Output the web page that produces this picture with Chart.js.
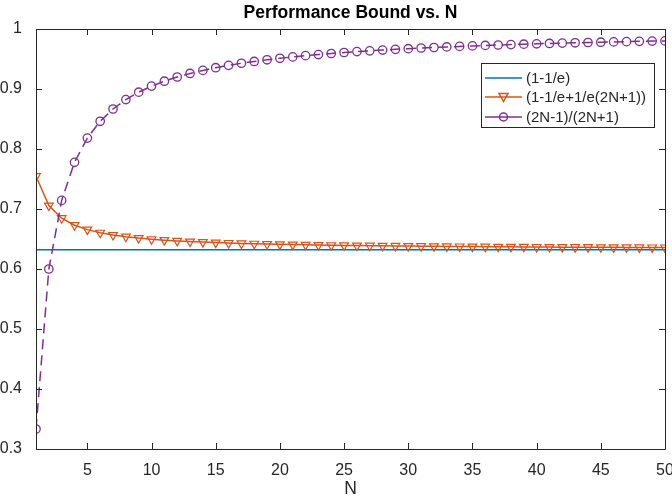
<!DOCTYPE html>
<html>
<head>
<meta charset="utf-8">
<script src="https://cdn.jsdelivr.net/npm/chart.js@4.4.1/dist/chart.umd.min.js"></script>
<style>
html,body{margin:0;padding:0;background:#fff;}
#wrap{width:672px;height:498px;position:relative;}
</style>
</head>
<body>
<div id="wrap"><canvas id="c" width="672" height="498"></canvas></div>
<script>
const titleText = "Performance Bound vs. N";
const xLabel = "N";
const N = [1,2,3,4,5,6,7,8,9,10,11,12,13,14,15,16,17,18,19,20,21,22,23,24,25,26,27,28,29,30,31,32,33,34,35,36,37,38,39,40,41,42,43,44,45,46,47,48,49,50];
const seriesNames = ["(1-1/e)", "(1-1/e+1/e(2N+1))", "(2N-1)/(2N+1)"];
const bound1 = [0.6321,0.6321,0.6321,0.6321,0.6321,0.6321,0.6321,0.6321,0.6321,0.6321,0.6321,0.6321,0.6321,0.6321,0.6321,0.6321,0.6321,0.6321,0.6321,0.6321,0.6321,0.6321,0.6321,0.6321,0.6321,0.6321,0.6321,0.6321,0.6321,0.6321,0.6321,0.6321,0.6321,0.6321,0.6321,0.6321,0.6321,0.6321,0.6321,0.6321,0.6321,0.6321,0.6321,0.6321,0.6321,0.6321,0.6321,0.6321,0.6321,0.6321];
const bound2 = [0.7547,0.7057,0.6847,0.6730,0.6656,0.6604,0.6566,0.6538,0.6515,0.6496,0.6481,0.6468,0.6457,0.6448,0.6440,0.6433,0.6426,0.6421,0.6416,0.6411,0.6407,0.6403,0.6399,0.6396,0.6393,0.6391,0.6388,0.6386,0.6384,0.6382,0.6380,0.6378,0.6376,0.6375,0.6373,0.6372,0.6370,0.6369,0.6368,0.6367,0.6366,0.6364,0.6363,0.6363,0.6362,0.6361,0.6360,0.6359,0.6358,0.6358];
const bound3 = [0.3333,0.6000,0.7143,0.7778,0.8182,0.8462,0.8667,0.8824,0.8947,0.9048,0.9130,0.9200,0.9259,0.9310,0.9355,0.9394,0.9429,0.9459,0.9487,0.9512,0.9535,0.9556,0.9574,0.9592,0.9608,0.9623,0.9636,0.9649,0.9661,0.9672,0.9683,0.9692,0.9701,0.9710,0.9718,0.9726,0.9733,0.9740,0.9747,0.9753,0.9759,0.9765,0.9770,0.9775,0.9780,0.9785,0.9789,0.9794,0.9798,0.9802];
const xTicks = [5,10,15,20,25,30,35,40,45,50];
const yTicks = [0.3,0.4,0.5,0.6,0.7,0.8,0.9,1];
const xMin = 1, xMax = 50, yMin = 0.3, yMax = 1;

const colors = ["#0072BD", "#D95319", "#7E2F8E"];
const FONT = "'Liberation Sans', Arial, Helvetica, sans-serif";
const AX = "#262626";

function pts(arr){ return N.map((n,i)=>({x:n, y:arr[i]})); }

const framePlugin = {
  id: 'frame',
  afterDraw(chart){
    const ctx = chart.ctx, a = chart.chartArea;
    const xs = chart.scales.x, ys = chart.scales.y;
    ctx.save();
    ctx.strokeStyle = AX; ctx.lineWidth = 1;
    ctx.beginPath();
    ctx.rect(Math.round(a.left)+0.5, Math.round(a.top)+0.5, Math.round(a.right-a.left), Math.round(a.bottom-a.top));
    ctx.stroke();
    const tl = 6;
    ctx.beginPath();
    xTicks.forEach(v=>{
      const px = Math.round(xs.getPixelForValue(v))+0.5;
      ctx.moveTo(px, a.bottom); ctx.lineTo(px, a.bottom-tl);
      ctx.moveTo(px, a.top); ctx.lineTo(px, a.top+tl);
    });
    yTicks.forEach(v=>{
      const py = Math.round(ys.getPixelForValue(v))+0.5;
      ctx.moveTo(a.left, py); ctx.lineTo(a.left+tl, py);
      ctx.moveTo(a.right, py); ctx.lineTo(a.right-tl, py);
    });
    ctx.stroke();
    // title
    ctx.fillStyle = "#000";
    ctx.font = "bold 17.5px " + FONT;
    ctx.textAlign = "center"; ctx.textBaseline = "middle";
    ctx.fillText(titleText, (a.left+a.right)/2, 13);
    // x label
    ctx.fillStyle = AX;
    ctx.font = "17.5px " + FONT;
    ctx.fillText(xLabel, (a.left+a.right)/2, 489);
    // legend
    const lx = 481, ly = 63, lw = 173, lh = 64;
    ctx.fillStyle = "#fff";
    ctx.fillRect(lx, ly, lw, lh);
    ctx.strokeStyle = AX; ctx.lineWidth = 1;
    ctx.strokeRect(lx+0.5, ly+0.5, lw, lh);
    const rows = [78, 97, 117];
    ctx.font = "15px " + FONT;
    ctx.textAlign = "left";
    rows.forEach((ry, i)=>{
      ctx.strokeStyle = colors[i]; ctx.lineWidth = 1.5;
      ctx.beginPath(); ctx.moveTo(485, ry); ctx.lineTo(522, ry); ctx.stroke();
      const cx = 503.5;
      if (i === 1) {
        ctx.beginPath();
        ctx.moveTo(cx-4.5, ry-3.5); ctx.lineTo(cx+4.5, ry-3.5); ctx.lineTo(cx, ry+4.5); ctx.closePath();
        ctx.stroke();
      } else if (i === 2) {
        ctx.beginPath(); ctx.arc(cx, ry, 4, 0, Math.PI*2); ctx.stroke();
      }
      ctx.fillStyle = AX;
      ctx.fillText(seriesNames[i], 526, ry+1);
    });
    ctx.restore();
  }
};

new Chart(document.getElementById('c'), {
  type: 'line',
  data: {
    datasets: [
      { label: seriesNames[0], data: pts(bound1), borderColor: colors[0], borderWidth: 1.5, pointRadius: 0, order: 3 },
      { label: seriesNames[1], data: pts(bound2), borderColor: colors[1], borderWidth: 1.5,
        pointStyle: 'triangle', rotation: 180, pointRadius: 5, pointBorderWidth: 1.2,
        pointBorderColor: colors[1], pointBackgroundColor: 'rgba(0,0,0,0)', order: 2 },
      { label: seriesNames[2], data: pts(bound3), borderColor: colors[2], borderWidth: 1.5, borderDash: [10,6],
        pointStyle: 'circle', pointRadius: 4.2, pointBorderWidth: 1.3,
        pointBorderColor: colors[2], pointBackgroundColor: 'rgba(0,0,0,0)', order: 1 }
    ]
  },
  options: {
    responsive: false, animation: false,
    devicePixelRatio: 1,
    layout: { padding: { top: 29, right: 7, left: 0, bottom: 0 } },
    elements: { line: { tension: 0 } },
    plugins: { legend: { display: false }, title: { display: false }, tooltip: { enabled: false } },
    scales: {
      x: {
        type: 'linear', min: xMin, max: xMax,
        afterBuildTicks: s => { s.ticks = xTicks.map(v=>({value:v})); },
        afterFit: s => { s.height = 49; s.paddingLeft = 0; s.paddingRight = 0; },
        grid: { display: false }, border: { display: false },
        ticks: { color: AX, font: { family: FONT, size: 16 }, padding: 4, maxRotation: 0, autoSkip: false,
                 callback: v => String(v) }
      },
      y: {
        type: 'linear', min: yMin, max: yMax,
        afterBuildTicks: s => { s.ticks = yTicks.map(v=>({value:v})); },
        afterFit: s => { s.width = 36; s.paddingTop = 0; s.paddingBottom = 0; },
        grid: { display: false }, border: { display: false },
        ticks: { color: AX, font: { family: FONT, size: 16 }, padding: 6, autoSkip: false,
                 callback: v => String(Math.round(v*10)/10) }
      }
    }
  },
  plugins: [framePlugin]
});
</script>
</body>
</html>
